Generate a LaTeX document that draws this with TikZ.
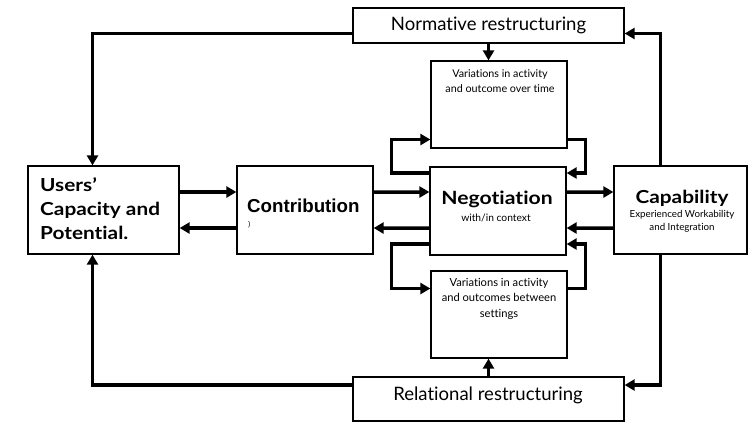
\documentclass[tikz,border=0pt]{standalone}
\usepackage{fontspec}
\setmainfont{Lato}[Ligatures={NoCommon}]
\newfontfamily\gillfont{Lato}[Ligatures={NoCommon}, FakeStretch=1.16]
\newfontfamily\arialfont{Liberation Sans}
\usetikzlibrary{arrows.meta}
\tikzset{
  box/.style={draw, line width=1.3bp, inner sep=0pt},
  conn/.style={line width=3.5bp, -{Triangle[length=10bp,width=11bp]}},
  txt/.style={inner sep=0pt, align=center},
}

\begin{document}
\begin{tikzpicture}[x=1bp,y=-1bp]
\useasboundingbox (0,0) rectangle (748,422);

\node[box, minimum width=151bp, minimum height=88bp] (users) at (103.5,210) {};
\node[box, minimum width=136bp, minimum height=88bp] (contrib) at (305,210) {};
\node[box, minimum width=136bp, minimum height=88bp] (negot) at (498,211) {};
\node[box, minimum width=133bp, minimum height=88bp] (capab) at (680.5,210) {};
\node[box, minimum width=271bp, minimum height=35bp, font=\fontsize{18.6}{20}\selectfont] (norm) at (488.5,25.5) {Normative restructuring};
\node[box, minimum width=271bp, minimum height=44bp] (relat) at (488.5,399) {};
\node[box, minimum width=136bp, minimum height=87bp] (vartop) at (499,104.5) {};
\node[box, minimum width=136bp, minimum height=87bp] (varbot) at (499,314.5) {};

\node[txt, anchor=north west, align=left, font=\gillfont\bfseries\fontsize{18}{24.5}\selectfont] (userstext) at (40,177) {Users’\\Capacity and\\Potential.};
\node[txt, anchor=base west, font=\arialfont\bfseries\fontsize{18.8}{20}\selectfont] (contribtext) at (247,212) {Contribution};
\node[txt, anchor=base west, font=\arialfont\fontsize{7}{8}\selectfont] (contribnote) at (248,226) {)};
\node[txt, anchor=base, font=\gillfont\bfseries\fontsize{18.3}{20}\selectfont] (negottext) at (497,204) {Negotiation};
\node[txt, anchor=base, font=\fontsize{10.3}{12}\selectfont] (negotnote) at (496,221) {with/in context};
\node[txt, anchor=base, font=\gillfont\bfseries\fontsize{18}{20}\selectfont] (capabtext) at (682,203) {Capability};
\node[txt, anchor=north, font=\fontsize{9.8}{13}\selectfont] (capabnote) at (682,210) {Experienced Workability\\and Integration};
\node[txt, anchor=north, font=\fontsize{10.8}{16}\selectfont] (vartoptext) at (500,69) {Variations in activity\\and outcome over time};
\node[txt, anchor=north, font=\fontsize{11.2}{15.5}\selectfont] (varbottext) at (499,278) {Variations in activity\\and outcomes between\\settings};
\node[txt, font=\fontsize{18.6}{20}\selectfont] (relattext) at (488,395) {Relational restructuring};

\draw[conn] ([yshift=18bp]users.east) -- ([yshift=18bp]contrib.west);
\draw[conn] ([yshift=-18bp]contrib.west) -- ([yshift=-18bp]users.east);
\draw[conn] ([yshift=18bp]contrib.east) -- ([yshift=19bp]negot.west);
\draw[conn] ([yshift=-17bp]negot.west) -- ([yshift=-18bp]contrib.east);
\draw[conn] ([yshift=19bp]negot.east) -- ([yshift=18bp]capab.west);
\draw[conn] ([yshift=-18bp]capab.west) -- ([yshift=-17bp]negot.east);

\draw[conn] ([yshift=-8bp]norm.west) -| ([xshift=-11bp]users.north);
\draw[conn] ([yshift=14bp]relat.west) -| ([xshift=-11bp]users.south);
\draw[conn] ([xshift=-20bp]capab.north) |- ([yshift=-8bp]norm.east);
\draw[conn] ([xshift=-20bp]capab.south) |- ([yshift=14bp]relat.east);
\draw[conn] (norm.south) -- (vartop.north -| norm.south);
\draw[conn] (relat.north) -- (varbot.south -| relat.north);

\draw[conn] ([yshift=38bp]negot.west) -- ++(-38,0) |- ([yshift=-35bp]vartop.west);
\draw[conn] ([yshift=-35bp]vartop.east) -- ++(18,0) |- ([yshift=38bp]negot.east);
\draw[conn] ([yshift=-33bp]negot.west) -- ++(-38,0) |- ([yshift=26bp]varbot.west);
\draw[conn] ([yshift=26bp]varbot.east) -- ++(18,0) |- ([yshift=-33bp]negot.east);
\end{tikzpicture}
\end{document}
